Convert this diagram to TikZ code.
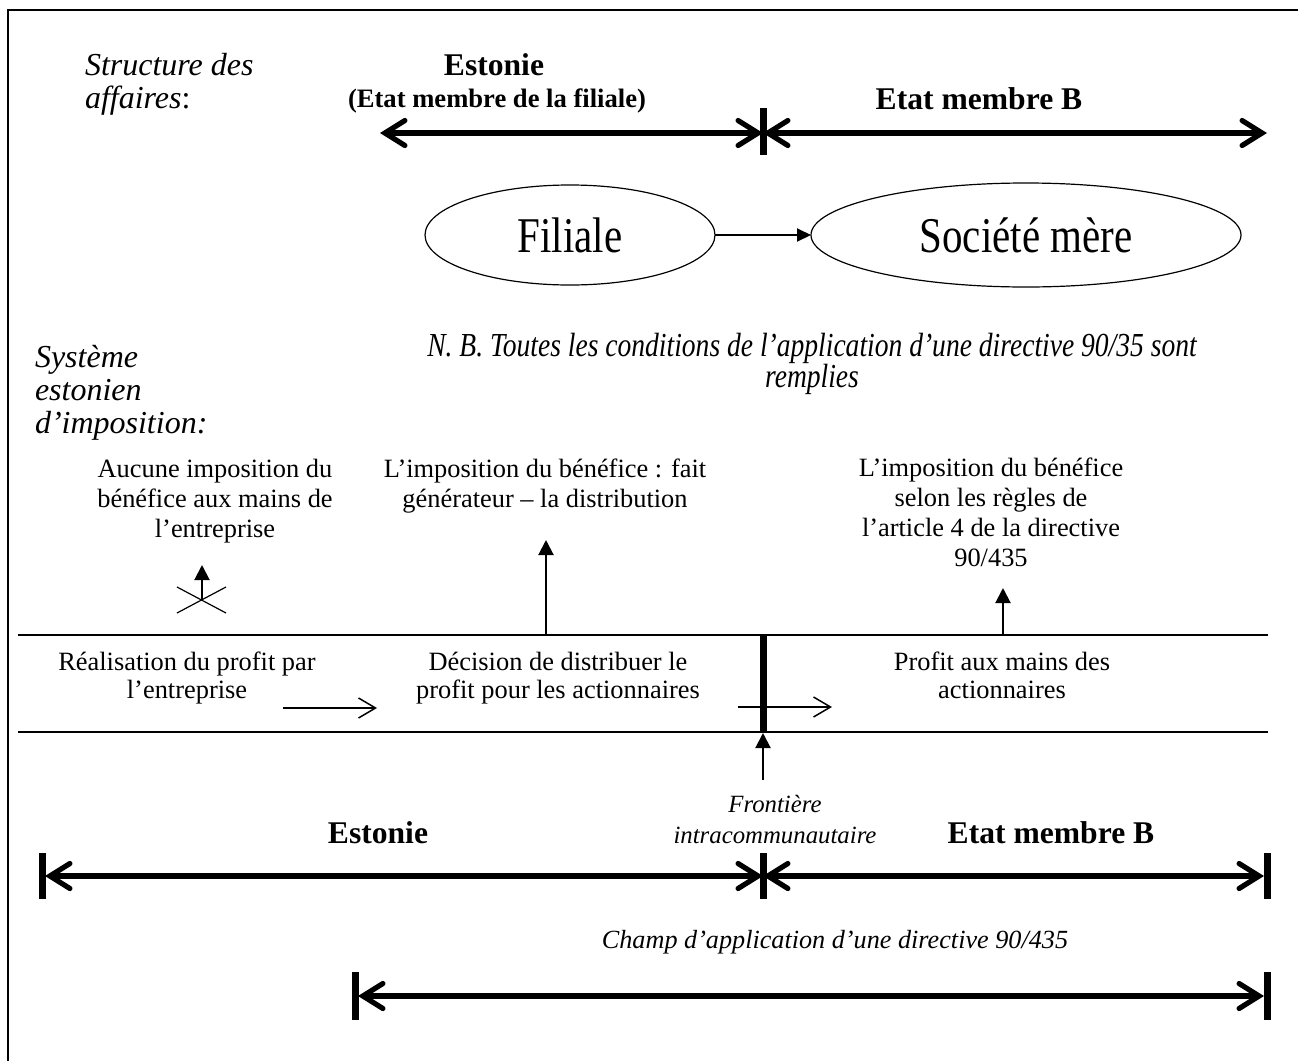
\documentclass[tikz,border=0pt]{standalone}
\usepackage{fontspec}
\setmainfont{Liberation Serif}
\newfontfamily\condserif{Liberation Serif}[FakeStretch=0.82]
\usetikzlibrary{arrows.meta,shapes.geometric}
\begin{document}
\begin{tikzpicture}[x=0.5pt,y=-0.5pt,
  every node/.style={inner sep=0pt,outer sep=0pt},
  body/.style={font=\fontsize{13.2}{14.85}\selectfont, align=center},
  bandtext/.style={font=\fontsize{13.2}{14}\selectfont, align=center},
  head/.style={font=\fontsize{16}{16.3}\selectfont\itshape, align=left},
  bigb/.style={font=\fontsize{15.8}{18}\selectfont\bfseries},
  subb/.style={font=\fontsize{13.3}{15}\selectfont\bfseries},
  nbtext/.style={font=\fontsize{16.8}{15.5}\selectfont\condserif\itshape, align=center},
  fronttext/.style={font=\fontsize{12.4}{15.5}\selectfont\itshape, align=center},
  champtext/.style={font=\fontsize{13.1}{15}\selectfont\itshape},
  ell/.style={draw, ellipse, line width=0.6pt, font=\fontsize{25}{27}\selectfont\condserif},
  bigarrow/.style={line width=2.6pt, line cap=round,
    {Straight Barb[length=10pt,width=12.5pt,line cap=round]}-{Straight Barb[length=10pt,width=12.5pt,line cap=round]}},
  bigbar/.style={line width=3.5pt},
  thinarrow/.style={line width=0.75pt, -{Straight Barb[length=8.5pt,width=10pt]}},
  uparrow/.style={line width=1pt, -{Triangle[length=7.5pt,width=7.5pt]}},
  linkarrow/.style={line width=1pt, -{Triangle[length=7pt,width=6.5pt]}},
  bandline/.style={line width=1pt},
]
\useasboundingbox (0,0) rectangle (1298,1061);
% frame
\coordinate (fBL) at (8,1061);
\coordinate (fTL) at (8,10);
\coordinate (fTR) at (1298,10);
\draw[line width=1pt] (fBL) -- (fTL) -- (fTR);

% headings (base anchor = last line baseline)
\node[head, anchor=base west] (struct) at (85,108) {Structure des\\affaires{\upshape :}};
\node[head, anchor=base west] (sys) at (35,433) {Système\\estonien\\d’imposition:};

% top states
\node[bigb, anchor=base] (estT) at (494,75) {Estonie};
\node[subb, anchor=base] (estTs) at (497,107) {(Etat membre de la filiale)};
\node[bigb, anchor=base] (embT) at (979,109) {Etat membre B};
\coordinate (tL) at (380,133);
\coordinate (tM) at (763,133);
\coordinate (tR) at (1267,133);
\coordinate (tMa) at (763,108);
\coordinate (tMb) at (763,155);
\draw[bigarrow] (tL) -- (tM);
\draw[bigarrow] (tM) -- (tR);
\draw[bigbar] (tMa) -- (tMb);

% companies
\node[ell, minimum width=145pt, minimum height=50pt] (fil) at (570,235) {Filiale};
\node[ell, minimum width=215pt, minimum height=52pt] (soc) at (1026,235) {Société mère};
\draw[linkarrow] (fil) -- (soc);

\node[nbtext, anchor=base] (nb) at (812,387) {N. B. Toutes les conditions de l’application d’une directive 90/35 sont\\remplies};

% taxation texts
\node[body, anchor=base] (aucune) at (215,537) {Aucune imposition du\\bénéfice aux mains de\\l’entreprise};
\node[body, anchor=base] (impo1) at (545,507) {L’imposition du bénéfice : fait\\générateur – la distribution};
\node[body, anchor=base] (impo2) at (991,566) {L’imposition du bénéfice\\selon les règles de\\l’article 4 de la directive\\90/435};

% crossed arrow
\coordinate (xC) at (202,600);
\coordinate (xT) at (202,565);
\coordinate (xA1) at (177,587);
\coordinate (xA2) at (226,613);
\coordinate (xB1) at (177,613);
\coordinate (xB2) at (226,587);
\draw[line width=0.6pt] (xA1) -- (xA2);
\draw[line width=0.6pt] (xB1) -- (xB2);
\draw[uparrow] (xC) -- (xT);

% band
\coordinate (bTL) at (18,635);
\coordinate (bTR) at (1268,635);
\coordinate (bBL) at (18,732);
\coordinate (bBR) at (1268,732);
\draw[bandline] (bTL) -- (bTR);
\draw[bandline] (bBL) -- (bBR);
\coordinate (bbT) at (763,635);
\coordinate (bbB) at (763,732);
\draw[bigbar] (bbT) -- (bbB);

\coordinate (u1s) at (546,635);
\coordinate (u1e) at (546,540);
\draw[uparrow] (u1s) -- (u1e);
\coordinate (u2s) at (1003,635);
\coordinate (u2e) at (1003,588);
\draw[uparrow] (u2s) -- (u2e);

\node[bandtext, anchor=base] (real) at (187,698) {Réalisation du profit par\\l’entreprise};
\node[bandtext, anchor=base] (deci) at (558,698) {Décision de distribuer le\\profit pour les actionnaires};
\node[bandtext, anchor=base] (prof) at (1002,698) {Profit aux mains des\\actionnaires};

\coordinate (a1s) at (283,708);
\coordinate (a1e) at (377,708);
\draw[thinarrow] (a1s) -- (a1e);
\coordinate (a2s) at (738,707);
\coordinate (a2e) at (832,707);
\draw[thinarrow] (a2s) -- (a2e);

% border arrow
\coordinate (u3s) at (763,780);
\coordinate (u3e) at (763,733);
\draw[uparrow] (u3s) -- (u3e);
\node[fronttext, anchor=base] (front) at (775,843) {Frontière\\intracommunautaire};

% bottom states
\node[bigb, anchor=base] (estB) at (378,843) {Estonie};
\node[bigb, anchor=base] (embB) at (1051,843) {Etat membre B};
\coordinate (bL) at (45,876);
\coordinate (bM) at (763,876);
\coordinate (bR) at (1264,876);
\draw[bigarrow] (bL) -- (bM);
\draw[bigarrow] (bM) -- (bR);
\coordinate (bLa) at (42,853);
\coordinate (bLb) at (42,899);
\coordinate (bMa) at (763,853);
\coordinate (bMb) at (763,899);
\coordinate (bRa) at (1267,853);
\coordinate (bRb) at (1267,899);
\draw[bigbar] (bLa) -- (bLb);
\draw[bigbar] (bMa) -- (bMb);
\draw[bigbar] (bRa) -- (bRb);

% scope of directive
\node[champtext, anchor=base] (champ) at (835,948) {Champ d’application d’une directive 90/435};
\coordinate (cL) at (358,996);
\coordinate (cR) at (1264,996);
\draw[bigarrow] (cL) -- (cR);
\coordinate (cLa) at (355,972);
\coordinate (cLb) at (355,1020);
\coordinate (cRa) at (1267,972);
\coordinate (cRb) at (1267,1020);
\draw[bigbar] (cLa) -- (cLb);
\draw[bigbar] (cRa) -- (cRb);
\end{tikzpicture}
\end{document}
